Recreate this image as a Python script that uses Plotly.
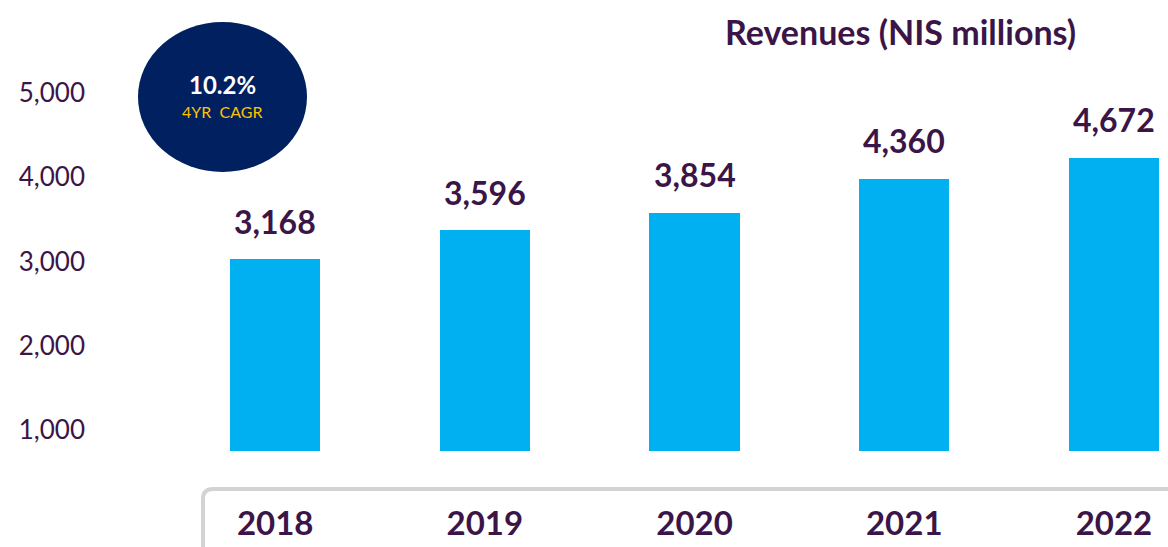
import plotly.graph_objects as go

years = ["2018", "2019", "2020", "2021", "2022"]
revenues = [3168, 3596, 3854, 4360, 4672]
axis_ticks = [1000, 2000, 3000, 4000, 5000]
title_text = "Revenues (NIS millions)"
cagr_label = "4YR  CAGR"

cagr = (revenues[-1] / revenues[0]) ** (1 / (len(years) - 1)) - 1

PURPLE = "#3B1548"
BAR = "#00B0F0"
NAVY = "#002060"
GOLD = "#FFC000"
FONT = "Lato"

W, H = 1168, 547
L, R, T, B = 86, 0, 0, 96
pw, ph = W - L - R, H - T - B


def px(x):
    return (x - L) / pw


def py(y):
    return (H - B - y) / ph


fig = go.Figure()

fig.add_trace(go.Bar(
    x=years, y=revenues, yaxis="y2",
    marker=dict(color=BAR, line=dict(width=0)),
    width=0.43, hoverinfo="skip",
))
# invisible helper trace so the scale axis is drawn
fig.add_trace(go.Scatter(
    x=[years[0]] * len(axis_ticks), y=axis_ticks, yaxis="y",
    mode="markers", marker=dict(opacity=0), hoverinfo="skip", showlegend=False,
))

annotations = []
for i, v in enumerate(revenues):
    annotations.append(dict(
        x=i, y=v, xref="x", yref="y2", text=f"{v:,}", showarrow=False,
        yshift=38, yanchor="middle",
        font=dict(family=FONT, size=32, color=PURPLE, weight="bold"),
    ))

annotations.append(dict(
    x=px(900), y=py(32), xref="paper", yref="paper", text=title_text,
    showarrow=False, xanchor="center", yanchor="middle",
    font=dict(family=FONT, size=34, color=PURPLE, weight="bold"),
))
annotations.append(dict(
    x=px(222), y=py(84), xref="paper", yref="paper", text=f"{cagr*100:.1f}%",
    showarrow=False, xanchor="center", yanchor="middle",
    font=dict(family=FONT, size=24, color="white", weight="bold"),
))
annotations.append(dict(
    x=px(222), y=py(112), xref="paper", yref="paper", text=cagr_label,
    showarrow=False, xanchor="center", yanchor="middle",
    font=dict(family=FONT, size=16, color=GOLD),
))

shapes = [
    dict(type="circle", xref="paper", yref="paper",
         x0=px(138), x1=px(307), y0=py(172), y1=py(22),
         fillcolor=NAVY, line=dict(width=0), layer="above"),
    dict(type="path", xref="paper", yref="paper",
         path=(f"M {px(203)},{py(560)} L {px(203)},{py(499)} "
               f"Q {px(203)},{py(489)} {px(213)},{py(489)} L {px(1180)},{py(489)}"),
         line=dict(color="#D3D3D3", width=4), layer="below"),
]

slot = 209.5
left_val = -(275 - L) / slot
right_val = 4 + (L + pw - 1114) / slot

fig.update_layout(
    width=W, height=H,
    margin=dict(l=L, r=R, t=T, b=B, pad=0),
    paper_bgcolor="white", plot_bgcolor="rgba(0,0,0,0)",
    showlegend=False,
    bargap=0,
    xaxis=dict(
        type="category", range=[left_val, right_val],
        showgrid=False, zeroline=False, showline=False, ticks="",
        tickfont=dict(family=FONT, size=33, color=PURPLE, weight="bold"),
        ticklabelstandoff=50,
    ),
    yaxis=dict(
        range=[751, 6104], tickvals=axis_ticks,
        tickformat=",d", showgrid=False, zeroline=False, showline=False,
        ticks="", tickfont=dict(family=FONT, size=26, color=PURPLE),
        side="left",
    ),
    yaxis2=dict(
        range=[311, 311 + ph / 0.0672], overlaying="y",
        showgrid=False, zeroline=False, showline=False, ticks="",
        showticklabels=False,
    ),
    annotations=annotations,
    shapes=shapes,
)

fig.write_html(
    "out.html",
    config={"displayModeBar": False},
    post_script="document.body.style.margin='0';document.body.style.padding='0';",
)
